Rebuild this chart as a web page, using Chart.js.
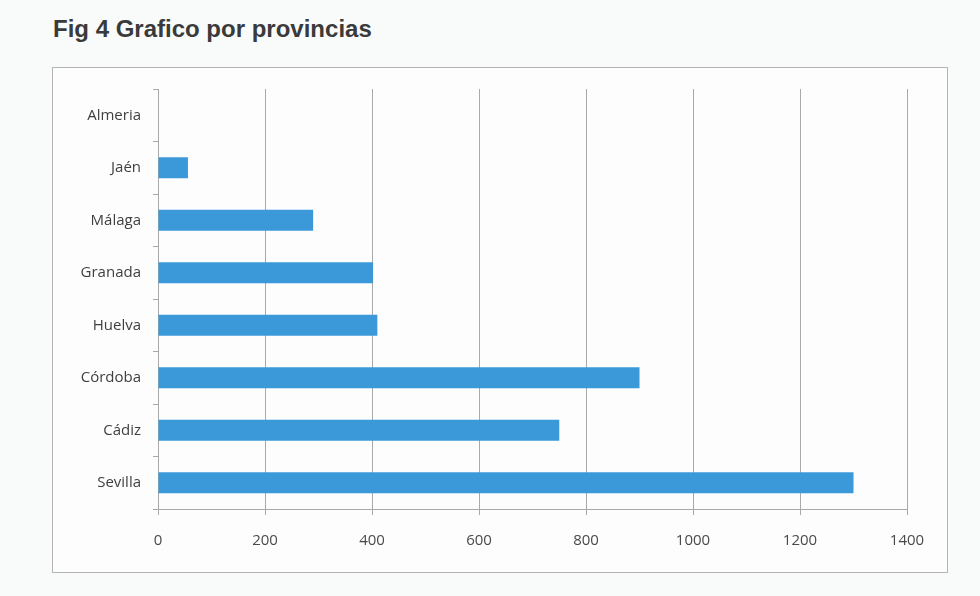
<!DOCTYPE html>
<html>
<head>
<meta charset="utf-8">
<script src="https://cdn.jsdelivr.net/npm/chart.js@4.4.0/dist/chart.umd.min.js"></script>
<style>
  html, body { margin: 0; padding: 0; background: #f9fafa; }
  body { width: 980px; height: 596px; position: relative; overflow: hidden; }
  #title {
    position: absolute; left: 53px; top: 15px;
    font-family: "Liberation Sans", Arial, sans-serif;
    font-weight: bold; font-size: 24px; color: #3a3a3a;
  }
  #box {
    position: absolute; left: 52px; top: 67px; width: 894px; height: 504px;
    border: 1px solid #b5b5b5; background: #fdfdfd;
  }
</style>
</head>
<body>
<div id="title">Fig 4 Grafico por provincias</div>
<div id="box"><canvas id="chart" width="894" height="504"></canvas></div>
<script>
// categories and values
var provincias = ['Almeria', 'Jaén', 'Málaga', 'Granada', 'Huelva', 'Córdoba', 'Cádiz', 'Sevilla'];
var valores = [0, 56, 290, 402, 410, 900, 750, 1300];
var xTicks = [0, 200, 400, 600, 800, 1000, 1200, 1400];

var ctx = document.getElementById('chart').getContext('2d');
var chart = new Chart(ctx, {
    type: 'bar',
    data: {
        labels: provincias,
        datasets: [{
            data: valores,
            backgroundColor: '#3b99d9',
            borderWidth: 0,
            barPercentage: 0.8,
            categoryPercentage: 0.5
        }]
    },
    options: {
        indexAxis: 'y',
        responsive: false,
        animation: false,
        layout: { padding: { left: 0, right: 40, top: 21, bottom: 0 } },
        plugins: {
            legend: { display: false },
            tooltip: { enabled: false }
        },
        scales: {
            x: {
                min: 0,
                max: 1400,
                afterBuildTicks: function(scale) {
                    scale.ticks = xTicks.map(function(v) { return { value: v }; });
                },
                afterFit: function(scale) { scale.height = 63; },
                grid: { color: '#a9a9a9', lineWidth: 1, drawTicks: true, tickLength: 6 },
                border: { display: true, color: '#a9a9a9' },
                ticks: {
                    padding: 17,
                    color: '#4a4a4a',
                    font: { family: 'Open Sans', size: 15 },
                    callback: function(v) { return String(v); }
                }
            },
            y: {
                afterFit: function(scale) { scale.width = 105; },
                grid: { drawOnChartArea: false, drawTicks: true, tickLength: 5, color: '#a9a9a9' },
                border: { display: true, color: '#a9a9a9' },
                ticks: {
                    padding: 12,
                    color: '#3f3f3f',
                    font: { family: 'Open Sans', size: 15 }
                }
            }
        }
    }
});
</script>
</body>
</html>
